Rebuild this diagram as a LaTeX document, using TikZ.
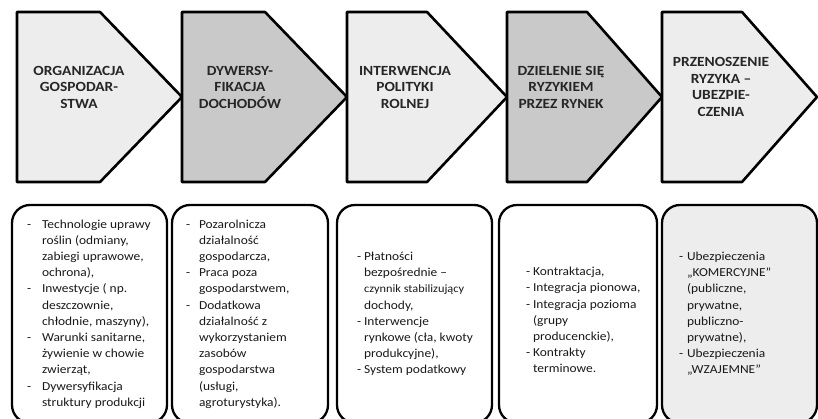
\documentclass[tikz,border=0pt]{standalone}
\usepackage{fontspec}
\setmainfont{Carlito}[FakeStretch=1.1]
\usetikzlibrary{positioning}

\begin{document}
\begin{tikzpicture}[x=1pt, y=-1pt,
		chevlight/.style={draw=black, line width=2.6pt, line join=round, fill=black!7},
		chevdark/.style={draw=black, line width=2.6pt, line join=round, fill=black!21},
		headtxt/.style={align=center, inner sep=0pt, font=\bfseries\fontsize{14}{16.5}\selectfont, text=black!85},
		card/.style={draw=black, line width=2.3pt, rounded corners=18pt, minimum height=218pt},
		listtxt/.style={inner sep=0pt, font=\fontsize{12.2}{16.2}\selectfont, text=black!90}]
	\useasboundingbox (0,0) rectangle (818,419);
	\clip (0,0) rectangle (818,419);

	% upper row
	\draw[chevlight] (17,12) -- (100,12) -- (182,97) -- (100,182) -- (17,182) -- cycle;
	\draw[chevdark] (182,12) -- (265,12) -- (347,97) -- (265,182) -- (182,182) -- cycle;
	\draw[chevlight] (347,12) -- (427,12) -- (507,97) -- (427,182) -- (347,182) -- cycle;
	\draw[chevdark] (507,12) -- (587,12) -- (662,97) -- (587,182) -- (507,182) -- cycle;
	\draw[chevlight] (662,12) -- (742,12) -- (817,97) -- (742,182) -- (662,182) -- cycle;

	\node[headtxt] (h1) at (79,87) {ORGANIZACJA\\GOSPODAR-\\STWA};
	\node[headtxt] (h2) at (240,87) {DYWERSY-\\FIKACJA\\DOCHODÓW};
	\node[headtxt] (h3) at (405,87) {INTERWENCJA\\POLITYKI\\ROLNEJ};
	\node[headtxt] (h4) at (561,87) {DZIELENIE SIĘ\\RYZYKIEM\\PRZEZ RYNEK};
	\node[headtxt] (h5) at (721,87) {PRZENOSZENIE\\RYZYKA –\\UBEZPIE-\\CZENIA};

	% lower row
	\node[card, minimum width=155pt] (c1) at (89.5,314) {};
	\node[card, minimum width=156pt] (c2) at (250,314) {};
	\node[card, minimum width=155pt] (c3) at (414.5,314) {};
	\node[card, minimum width=158pt] (c4) at (578,314) {};
	\node[card, minimum width=155pt, fill=black!7] (c5) at (739.5,314) {};

	\node[listtxt, right=16pt of c1.west] (l1) {\begin{tabular}{@{}p{15pt}@{}l@{}}
		-&Technologie uprawy\\
		&roślin (odmiany,\\
		&zabiegi uprawowe,\\
		&ochrona),\\
		-&Inwestycje ( np.\\
		&deszczownie,\\
		&chłodnie, maszyny),\\
		-&Warunki sanitarne,\\
		&żywienie w chowie\\
		&zwierząt,\\
		-&Dywersyfikacja\\
		&struktury produkcji
	\end{tabular}};
	\node[listtxt, right=15pt of c2.west] (l2) {\begin{tabular}{@{}p{13pt}@{}l@{}}
		-&Pozarolnicza\\
		&działalność\\
		&gospodarcza,\\
		-&Praca poza\\
		&gospodarstwem,\\
		-&Dodatkowa\\
		&działalność z\\
		&wykorzystaniem\\
		&zasobów\\
		&gospodarstwa\\
		&(usługi,\\
		&agroturystyka).
	\end{tabular}};
	\node[listtxt, right=21pt of c3.west] (l3) {\begin{tabular}{@{}p{7pt}@{}l@{}}
		-&Płatności\\
		&bezpośrednie –\\
		&{\fontsize{11.2}{16.2}\selectfont czynnik stabilizujący}\\
		&dochody,\\
		-&Interwencje\\
		&rynkowe (cła, kwoty\\
		&produkcyjne),\\
		-&System podatkowy
	\end{tabular}};
	\node[listtxt, right=28pt of c4.west, yshift=-7pt] (l4) {\begin{tabular}{@{}p{7pt}@{}l@{}}
		-&Kontraktacja,\\
		-&Integracja pionowa,\\
		-&Integracja pozioma\\
		&(grupy\\
		&producenckie),\\
		-&Kontrakty\\
		&terminowe.
	\end{tabular}};
	\node[listtxt, right=18pt of c5.west] (l5) {\begin{tabular}{@{}p{8pt}@{}l@{}}
		-&Ubezpieczenia\\
		&„KOMERCYJNE”\\
		&(publiczne,\\
		&prywatne,\\
		&publiczno-\\
		&prywatne),\\
		-&Ubezpieczenia\\
		&„WZAJEMNE”
	\end{tabular}};
\end{tikzpicture}
\end{document}
